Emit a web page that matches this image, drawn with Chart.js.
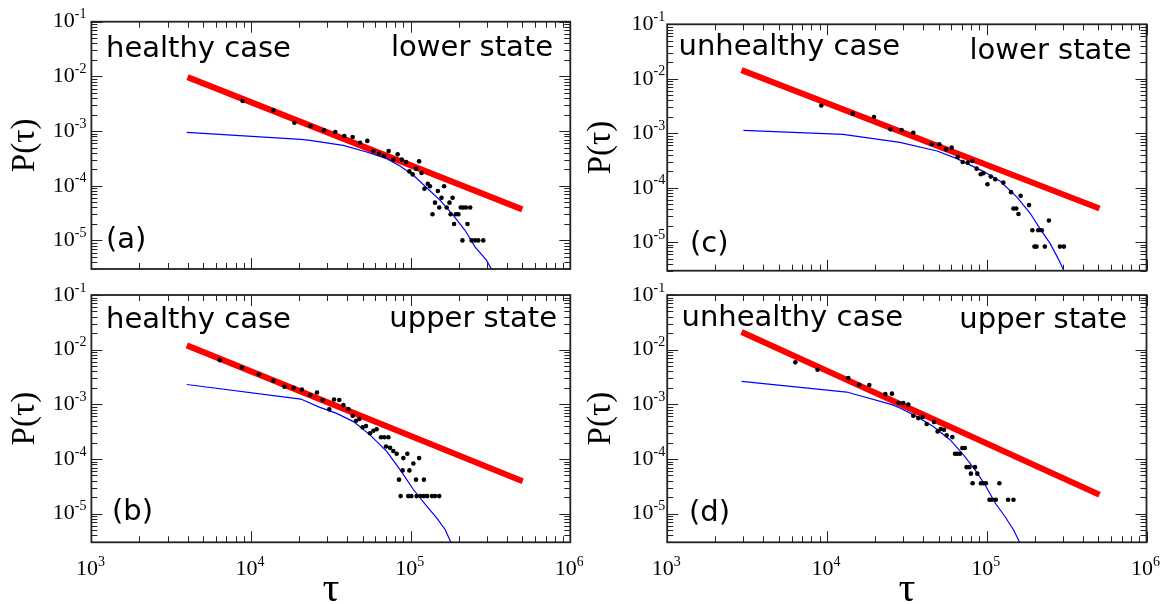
<!DOCTYPE html>
<html lang="en">
<head>
<meta charset="UTF-8">
<title>P(tau)</title>
<script src="https://cdn.jsdelivr.net/npm/chart.js"></script>
<style>
  body { margin: 0; padding: 0; background: #fff; }
  #wrap { position: relative; width: 1167px; height: 604px; overflow: hidden; background: #fff; }
  #wrap canvas { position: absolute; }
</style>
</head>
<body>
<div id="wrap">
  <canvas id="pa" width="583" height="283" style="left:0px;top:0px"></canvas>
  <canvas id="pb" width="583" height="321" style="left:0px;top:283px"></canvas>
  <canvas id="pc" width="584" height="283" style="left:583px;top:0px"></canvas>
  <canvas id="pd" width="584" height="321" style="left:583px;top:283px"></canvas>
</div>
<script>
// axis ranges and tick labels (powers of ten)
const xMin = 1e3, xMax = 1e6, yMin = 3e-6, yMax = 1e-1;
const xTickExps = [3, 4, 5, 6];
const yTickExps = [-1, -2, -3, -4, -5];

const caseNames = ['healthy case', 'healthy case', 'unhealthy case', 'unhealthy case'];
const stateNames = ['lower state', 'upper state', 'lower state', 'upper state'];
const tags = ['(a)', '(b)', '(c)', '(d)'];

// (a) healthy, lower state
const aTau = [8860, 13800, 18700, 23600, 28600, 33700, 38400, 43300, 48200, 53500, 58400, 63400,
  68100, 72800, 77900, 82900, 87900, 93600, 98200, 103000, 108000, 113000, 117000, 122000, 128000,
  132000, 148000, 162000, 142000, 156000, 151000, 168000, 175000, 183000, 137000, 178000, 192000,
  199000, 187000, 206000, 214000, 222000, 236000, 227000, 211000, 241000, 253000, 265000, 285000];
const aP = [3.54e-3, 2.39e-3, 1.42e-3, 1.24e-3, 1.03e-3, 9.6e-4, 8.1e-4, 7.8e-4, 6.1e-4, 6.6e-4, 4.3e-4, 3.86e-4,
  3.5e-4, 4.3e-4, 3.0e-4, 3.75e-4, 3.0e-4, 2.72e-4, 1.83e-4, 1.61e-4, 2.05e-4, 2.79e-4, 1.71e-4, 8.8e-5, 1.09e-4,
  9.8e-5, 8.0e-5, 9.8e-5, 4.9e-5, 6.0e-5, 4.0e-5, 4.0e-5, 4.9e-5, 6.0e-5, 3.0e-5, 3.0e-5, 3.0e-5,
  3.0e-5, 2.0e-5, 4.0e-5, 4.0e-5, 4.0e-5, 4.0e-5, 2.0e-5, 1e-5, 1e-5, 1e-5, 1e-5, 1e-5];
const aFitTau = [4000, 500000];
const aFitP = [9.7e-3, 3.7e-5];
const aCurveTau = [3960, 20500, 23400, 37800, 53000, 70800, 85700, 104000, 126000, 153000, 185000, 219000, 253000, 299000, 340000];
const aCurveP = [9.46e-4, 7.05e-4, 6.76e-4, 5.48e-4, 4.14e-4, 3.13e-4, 2.3e-4, 1.55e-4, 9.2e-5, 5.4e-5, 2.88e-5, 1.53e-5, 7.6e-6, 4.3e-6, 2.2e-6];

// (b) healthy, upper state
const bTau = [6380, 8750, 11200, 13800, 16200, 18500, 20800, 23500, 25900, 28100, 33100, 35700, 37900,
  40700, 30900, 43300, 45500, 47700, 50000, 52500, 55600, 58400, 61200, 65200, 68400, 72500, 70100,
  74300, 77900, 81700, 90000, 95300, 113000, 104000, 89100, 98200, 84500, 108000, 121000,
  86500, 96600, 101000, 109000, 115000, 121000, 127000, 136000, 142000, 151000];
const bP = [6.4e-3, 4.71e-3, 3.56e-3, 2.69e-3, 2.1e-3, 2.01e-3, 1.87e-3, 1.48e-3, 1.65e-3, 1.2e-3, 1.23e-3, 1.2e-3, 9.7e-4,
  8.2e-4, 8.1e-4, 6.2e-4, 5.0e-4, 5.4e-4, 3.8e-4, 4.0e-4, 2.97e-4, 3.3e-4, 3.5e-4, 2.5e-4, 2.5e-4, 2.5e-4, 1.7e-4,
  1.6e-4, 1.4e-4, 1.25e-4, 1.04e-4, 1.25e-4, 1.04e-4, 8.3e-5, 6.2e-5, 6.2e-5, 4.2e-5, 4.2e-5, 4.2e-5,
  2.1e-5, 2.1e-5, 2.1e-5, 2.1e-5, 2.1e-5, 2.1e-5, 2.1e-5, 2.1e-5, 2.1e-5, 2.1e-5];
const bFitTau = [3960, 503000];
const bFitP = [1.2e-2, 3.93e-5];
const bCurveTau = [3960, 20500, 27000, 34400, 43800, 55600, 70800, 85700, 104000, 126000, 145000, 164000, 185000];
const bCurveP = [2.31e-3, 1.25e-3, 8.8e-4, 6.85e-4, 4.84e-4, 2.77e-4, 1.38e-4, 6.4e-5, 2.77e-5, 1.38e-5, 8.5e-6, 5.2e-6, 2.4e-6];

// (c) unhealthy, lower state
const cTau = [9220, 14500, 19700, 25000, 29300, 34700, 45200, 50500, 55600, 60300, 65800, 70700, 76000,
  81200, 86500, 91700, 95200, 101000, 106000, 113000, 127000, 142000, 163000, 184000, 147000, 153000,
  158000, 193000, 210000, 221000, 245000, 199000, 205000, 231000, 287000, 304000];
const cP = [3.24e-3, 2.29e-3, 1.99e-3, 1.18e-3, 1.15e-3, 1.02e-3, 6.27e-4, 6.27e-4, 5.07e-4, 5.44e-4, 3.67e-4, 2.97e-4, 2.89e-4,
  3.1e-4, 2.24e-4, 1.77e-4, 1.84e-4, 1.16e-4, 1.6e-4, 1.43e-4, 1.24e-4, 8.3e-5, 7.1e-5, 4.8e-5, 4.15e-5, 4.15e-5,
  3.3e-5, 1.66e-5, 1.66e-5, 1.66e-5, 2.5e-5, 8.3e-6, 8.3e-6, 8.3e-6, 8.3e-6, 8.3e-6];
const cFitTau = [2920, 508000];
const cFitP = [1.44e-2, 4.15e-5];
const cCurveTau = [3000, 12600, 28600, 48900, 65000, 95200, 121000, 154000, 187000, 215000, 249000, 281000, 301000, 330000];
const cCurveP = [1.13e-3, 9.55e-4, 6.8e-4, 4.72e-4, 3.42e-4, 2.0e-4, 1.33e-4, 6.8e-5, 3.4e-5, 1.8e-5, 9.5e-6, 4.9e-6, 3.2e-6, 1.5e-6];

// (d) unhealthy, upper state
const dTau = [6340, 8730, 13600, 15900, 18400, 23200, 25500, 28100, 30000, 32300, 34700, 37300, 39700,
  42100, 46800, 49300, 51500, 54000, 56100, 60900, 63300, 65500, 68000, 70300, 73000, 74800, 77800,
  84400, 79600, 87300, 81600, 92000, 95100, 98900, 120000, 104000, 108000, 114000, 136000, 147000];
const dP = [5.86e-3, 4.3e-3, 3.03e-3, 2.29e-3, 2.26e-3, 1.55e-3, 1.57e-3, 1.06e-3, 1.06e-3, 9.9e-4, 6.2e-4, 5.6e-4, 5.9e-4,
  4.36e-4, 4.75e-4, 3.2e-4, 3.54e-4, 3.44e-4, 2.71e-4, 2.52e-4, 1.25e-4, 1.25e-4, 1.25e-4, 1.59e-4, 1.59e-4, 7.1e-5, 7.1e-5,
  7.1e-5, 5.4e-5, 5.4e-5, 3.6e-5, 3.6e-5, 3.6e-5, 3.6e-5, 3.6e-5, 1.8e-5, 1.8e-5, 1.8e-5, 1.8e-5, 1.8e-5];
const dFitTau = [2920, 508000];
const dFitP = [2.1e-2, 2.23e-5];
const dCurveTau = [2920, 13300, 25500, 28600, 36400, 46300, 58900, 71300, 84400, 97500, 113000, 130000, 147000, 168000];
const dCurveP = [2.63e-3, 1.68e-3, 9.86e-4, 8.57e-4, 6.03e-4, 3.95e-4, 2.26e-4, 1.2e-4, 6.4e-5, 3.39e-5, 1.57e-5, 8.9e-6, 5.1e-6, 2.3e-6];

const SERIF = '"Liberation Serif", "DejaVu Serif", serif';
const SANS = '"DejaVu Sans", sans-serif';

function pts(xs, ys) { return xs.map((v, i) => ({ x: v, y: ys[i] })); }

// draws "10" with a raised exponent
function pow10(ctx, e, x, y, align) {
  const s = String(e);
  ctx.font = '22px ' + SERIF;
  const w1 = ctx.measureText('10').width;
  ctx.font = '14px ' + SERIF;
  const w2 = ctx.measureText(s).width;
  const x0 = align === 'right' ? x - w1 - w2 : x - (w1 + w2) / 2;
  ctx.textAlign = 'left';
  ctx.textBaseline = 'middle';
  ctx.font = '22px ' + SERIF;
  ctx.fillText('10', x0, y);
  ctx.font = '14px ' + SERIF;
  ctx.fillText(s, x0 + w1, y - 7);
}

// box, inward ticks on all sides, tick labels and texts
const framePlugin = {
  id: 'frame',
  afterDatasetsDraw(chart) {
    const o = chart.options.plugins.frame;
    const { ctx, chartArea: a, scales: { x, y } } = chart;
    ctx.save();
    ctx.strokeStyle = '#222';
    ctx.lineWidth = 1;
    ctx.beginPath();
    for (let e = 3; e <= 6; e++) {
      for (let m = 1; m < 10; m++) {
        const v = m * Math.pow(10, e);
        if (v < xMin || v > xMax) continue;
        const px = Math.round(x.getPixelForValue(v)) + 0.5;
        const len = m === 1 ? 11 : 6;
        ctx.moveTo(px, a.bottom); ctx.lineTo(px, a.bottom - len);
        ctx.moveTo(px, a.top); ctx.lineTo(px, a.top + len);
      }
    }
    for (let e = -6; e <= -1; e++) {
      for (let m = 1; m < 10; m++) {
        const v = m * Math.pow(10, e);
        if (v < yMin || v > yMax * 1.0001) continue;
        const py = Math.round(y.getPixelForValue(v)) + 0.5;
        const len = m === 1 ? 11 : 6;
        ctx.moveTo(a.left, py); ctx.lineTo(a.left + len, py);
        ctx.moveTo(a.right, py); ctx.lineTo(a.right - len, py);
      }
    }
    ctx.stroke();
    ctx.lineWidth = 1.8;
    ctx.strokeRect(a.left, a.top, a.right - a.left, a.bottom - a.top);

    ctx.fillStyle = '#000';
    yTickExps.forEach(e => pow10(ctx, e, a.left - o.yGap, y.getPixelForValue(Math.pow(10, e)), 'right'));
    if (o.bottomAxis) {
      xTickExps.forEach(e => pow10(ctx, e, x.getPixelForValue(Math.pow(10, e)) - 1, a.bottom + 27, 'center'));
      ctx.font = '42px ' + SERIF;
      ctx.textAlign = 'center';
      ctx.textBaseline = 'alphabetic';
      ctx.fillText('τ', (a.left + a.right) / 2, a.bottom + 59);
    }
    // y title
    ctx.save();
    ctx.translate(a.left - 66, (a.top + a.bottom) / 2);
    ctx.rotate(-Math.PI / 2);
    ctx.font = '33px ' + SERIF;
    ctx.textAlign = 'center';
    ctx.textBaseline = 'middle';
    ctx.fillText('P(τ)', 0, 0);
    ctx.restore();

    ctx.font = '29px ' + SANS;
    ctx.textBaseline = 'alphabetic';
    o.texts.forEach(t => {
      ctx.textAlign = t.align;
      ctx.fillText(t.s, t.x, t.y);
    });
    ctx.restore();
  }
};

function makePanel(id, k, tau, p, fitTau, fitP, curveTau, curveP, pad, bottomAxis, yGap, pos) {
  new Chart(document.getElementById(id), {
    type: 'scatter',
    data: {
      datasets: [
        { data: pts(tau, p), backgroundColor: '#000', borderWidth: 0, pointRadius: 2.3, order: 1 },
        { data: pts(curveTau, curveP), showLine: true, borderColor: '#0000ff', borderWidth: 1.2,
          pointRadius: 0, fill: false, clip: 0, tension: 0, order: 2 },
        { data: pts(fitTau, fitP), showLine: true, borderColor: '#ff0000', borderWidth: 6,
          borderCapStyle: 'butt', pointRadius: 0, fill: false, order: 3 }
      ]
    },
    options: {
      responsive: false,
      animation: false,
      events: [],
      layout: { padding: pad },
      scales: {
        x: { type: 'logarithmic', min: xMin, max: xMax, bounds: 'data', display: false },
        y: { type: 'logarithmic', min: yMin, max: yMax, bounds: 'data', display: false }
      },
      plugins: {
        legend: { display: false },
        tooltip: { enabled: false },
        frame: {
          bottomAxis: bottomAxis,
          yGap: yGap,
          texts: [
            { s: caseNames[k], x: pos[0], y: pos[1], align: 'left' },
            { s: stateNames[k], x: pos[2], y: pos[3], align: 'right' },
            { s: tags[k], x: pos[4], y: pos[5], align: 'left' }
          ]
        }
      }
    },
    plugins: [framePlugin]
  });
}

makePanel('pa', 0, aTau, aP, aFitTau, aFitP, aCurveTau, aCurveP,
  { left: 91.4, top: 21.7, right: 12.7, bottom: 14 }, false, 5, [106, 56.5, 553, 55.5, 106, 248]);
makePanel('pb', 1, bTau, bP, bFitTau, bFitP, bCurveTau, bCurveP,
  { left: 91.4, top: 12, right: 12.7, bottom: 61.7 }, true, 5, [106, 45, 557, 44, 112, 237]);
makePanel('pc', 2, cTau, cP, cFitTau, cFitP, cCurveTau, cCurveP,
  { left: 84.2, top: 24.3, right: 20.5, bottom: 12.3 }, false, 2, [95.5, 55, 548.5, 59, 107, 251.5]);
makePanel('pd', 3, dTau, dP, dFitTau, dFitP, dCurveTau, dCurveP,
  { left: 84.2, top: 12, right: 20.5, bottom: 61.7 }, true, 2, [98.5, 43, 544, 45, 106, 238]);
</script>
</body>
</html>
